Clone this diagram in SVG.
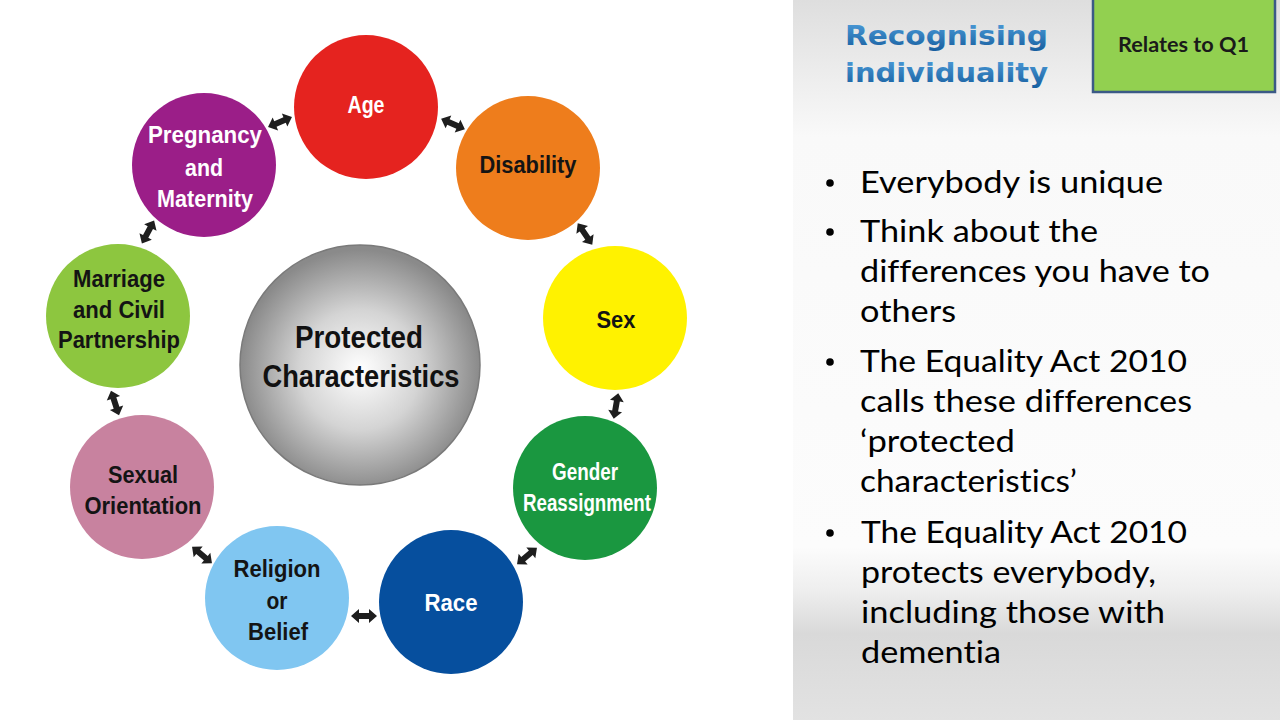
<svg xmlns="http://www.w3.org/2000/svg" xmlns:xlink="http://www.w3.org/1999/xlink" width="1280" height="720" viewBox="0 0 1280 720">
  <defs>
    <style>
      text { font-variant-ligatures: none; font-feature-settings: "liga" 0, "clig" 0; }
      .lbl { font-family: "Liberation Sans Narrow", "Liberation Sans", Arial, sans-serif; font-weight: bold; font-size: 23px; text-anchor: middle; }
      .w { fill: #ffffff; }
      .k { fill: #141414; }
      .hub { font-family: "Liberation Sans Narrow", "Liberation Sans", Arial, sans-serif; font-weight: bold; font-size: 31px; text-anchor: middle; fill: #111111; }
      .title { font-family: "DejaVu Sans", Verdana, sans-serif; font-weight: bold; font-size: 27px; fill: url(#titleGrad); }
      .tag { font-family: "Lato", "Liberation Sans", sans-serif; font-weight: bold; font-size: 21px; fill: #1a1a1a; }
      .body { font-family: "Lato", "Open Sans", "Liberation Sans", sans-serif; font-size: 30px; fill: #000000; }
      .dot { fill: #000000; }
      .arrow { fill: #1e1e1e; }
    </style>
    <linearGradient id="panelGrad" x1="0" y1="0" x2="0" y2="1">
      <stop offset="0" stop-color="#dedede"/>
      <stop offset="0.19" stop-color="#f9f9f9"/>
      <stop offset="0.76" stop-color="#fcfcfc"/>
      <stop offset="0.82" stop-color="#eeeeee"/>
      <stop offset="0.88" stop-color="#d9d9d9"/>
      <stop offset="1" stop-color="#e2e2e2"/>
    </linearGradient>
    <linearGradient id="titleGrad" x1="0" y1="0" x2="0" y2="1">
      <stop offset="0" stop-color="#4f9fdc"/>
      <stop offset="1" stop-color="#175e9f"/>
    </linearGradient>
    <radialGradient id="hubGrad" cx="0.5" cy="0.52" r="0.5">
      <stop offset="0" stop-color="#ffffff"/>
      <stop offset="0.5" stop-color="#d4d4d4"/>
      <stop offset="1" stop-color="#8a8a8a"/>
    </radialGradient>
    <!-- double-headed arrow, centred on the origin, pointing along x -->
    <polygon id="dbl" points="-13,0 -5,-7 -5,-3 5,-3 5,-7 13,0 5,7 5,3 -5,3 -5,7"/>
  </defs>

  <rect x="0" y="0" width="1280" height="720" fill="#ffffff"/>

  <!-- right-hand text panel -->
  <g id="panel">
    <rect x="793" y="0" width="487" height="720" fill="url(#panelGrad)"/>
  </g>

  <g id="title">
    <text class="title" x="845" y="45" textLength="203" lengthAdjust="spacingAndGlyphs">Recognising</text>
    <text class="title" x="845" y="82" textLength="203" lengthAdjust="spacingAndGlyphs">individuality</text>
  </g>

  <g id="tag-q1">
    <rect x="1093" y="-2" width="182" height="94" fill="#92d050" stroke="#3b5a86" stroke-width="2.5"/>
    <text class="tag" x="1118" y="52" textLength="131" lengthAdjust="spacingAndGlyphs">Relates to Q1</text>
  </g>

  <g id="bullets">
    <circle class="dot" cx="830" cy="183" r="3.8"/>
    <text class="body" x="860" y="193" textLength="303" lengthAdjust="spacingAndGlyphs">Everybody is unique</text>

    <circle class="dot" cx="830" cy="232" r="3.8"/>
    <text class="body" x="860" y="242" textLength="238" lengthAdjust="spacingAndGlyphs">Think about the</text>
    <text class="body" x="860" y="282" textLength="350" lengthAdjust="spacingAndGlyphs">differences you have to</text>
    <text class="body" x="860" y="322" textLength="96" lengthAdjust="spacingAndGlyphs">others</text>

    <circle class="dot" cx="830" cy="362" r="3.8"/>
    <text class="body" x="860" y="372" textLength="327" lengthAdjust="spacingAndGlyphs">The Equality Act 2010</text>
    <text class="body" x="860" y="412" textLength="332" lengthAdjust="spacingAndGlyphs">calls these differences</text>
    <text class="body" x="860" y="452" textLength="155" lengthAdjust="spacingAndGlyphs">‘protected</text>
    <text class="body" x="860" y="492" textLength="217" lengthAdjust="spacingAndGlyphs">characteristics’</text>

    <circle class="dot" cx="830" cy="533" r="3.8"/>
    <text class="body" x="861" y="543" textLength="326" lengthAdjust="spacingAndGlyphs">The Equality Act 2010</text>
    <text class="body" x="861" y="583" textLength="295" lengthAdjust="spacingAndGlyphs">protects everybody,</text>
    <text class="body" x="861" y="623" textLength="304" lengthAdjust="spacingAndGlyphs">including those with</text>
    <text class="body" x="861" y="663" textLength="140" lengthAdjust="spacingAndGlyphs">dementia</text>
  </g>

  <!-- connectors between neighbouring characteristics -->
  <g id="connectors">
    <use xlink:href="#dbl" class="arrow" transform="translate(280,122) rotate(-23)"/>
    <use xlink:href="#dbl" class="arrow" transform="translate(453,124) rotate(24)"/>
    <use xlink:href="#dbl" class="arrow" transform="translate(585,234) rotate(56)"/>
    <use xlink:href="#dbl" class="arrow" transform="translate(616,406) rotate(100)"/>
    <use xlink:href="#dbl" class="arrow" transform="translate(527,556) rotate(140)"/>
    <use xlink:href="#dbl" class="arrow" transform="translate(364,616) rotate(0)"/>
    <use xlink:href="#dbl" class="arrow" transform="translate(202,555) rotate(40)"/>
    <use xlink:href="#dbl" class="arrow" transform="translate(115,403) rotate(72)"/>
    <use xlink:href="#dbl" class="arrow" transform="translate(148,232) rotate(118)"/>
  </g>

  <g id="hub">
    <circle cx="360" cy="365" r="120" fill="url(#hubGrad)" stroke="#7a7a7a" stroke-width="1.5"/>
    <text class="hub" x="359" y="348" textLength="128" lengthAdjust="spacingAndGlyphs">Protected</text>
    <text class="hub" x="361" y="387" textLength="197" lengthAdjust="spacingAndGlyphs">Characteristics</text>
  </g>

  <g id="age">
    <circle cx="366" cy="107" r="72" fill="#e5231f"/>
    <text class="lbl w" x="366" y="113" textLength="37" lengthAdjust="spacingAndGlyphs">Age</text>
  </g>

  <g id="disability">
    <circle cx="528" cy="168" r="72" fill="#ee7d1c"/>
    <text class="lbl k" x="528" y="173" textLength="97" lengthAdjust="spacingAndGlyphs">Disability</text>
  </g>

  <g id="sex">
    <circle cx="615" cy="318" r="72" fill="#fff200"/>
    <text class="lbl k" x="616" y="328" textLength="39" lengthAdjust="spacingAndGlyphs">Sex</text>
  </g>

  <g id="gender-reassignment">
    <circle cx="585" cy="488" r="72" fill="#1a9740"/>
    <text class="lbl w" x="585" y="480" textLength="66" lengthAdjust="spacingAndGlyphs">Gender</text>
    <text class="lbl w" x="587" y="511" textLength="128" lengthAdjust="spacingAndGlyphs">Reassignment</text>
  </g>

  <g id="race">
    <circle cx="451" cy="602" r="72" fill="#064f9e"/>
    <text class="lbl w" x="451" y="611" textLength="53" lengthAdjust="spacingAndGlyphs">Race</text>
  </g>

  <g id="religion-or-belief">
    <circle cx="277" cy="598" r="72" fill="#80c6f1"/>
    <text class="lbl k" x="277" y="577" textLength="87" lengthAdjust="spacingAndGlyphs">Religion</text>
    <text class="lbl k" x="277" y="609" textLength="21" lengthAdjust="spacingAndGlyphs">or</text>
    <text class="lbl k" x="278" y="640" textLength="60" lengthAdjust="spacingAndGlyphs">Belief</text>
  </g>

  <g id="sexual-orientation">
    <circle cx="142" cy="487" r="72" fill="#c8829f"/>
    <text class="lbl k" x="143" y="483" textLength="70" lengthAdjust="spacingAndGlyphs">Sexual</text>
    <text class="lbl k" x="143" y="514" textLength="117" lengthAdjust="spacingAndGlyphs">Orientation</text>
  </g>

  <g id="marriage-civil-partnership">
    <circle cx="118" cy="316" r="72" fill="#8dc63f"/>
    <text class="lbl k" x="119" y="287" textLength="92" lengthAdjust="spacingAndGlyphs">Marriage</text>
    <text class="lbl k" x="119" y="318" textLength="92" lengthAdjust="spacingAndGlyphs">and Civil</text>
    <text class="lbl k" x="119" y="348" textLength="122" lengthAdjust="spacingAndGlyphs">Partnership</text>
  </g>

  <g id="pregnancy-maternity">
    <circle cx="204" cy="165" r="72" fill="#9b1e88"/>
    <text class="lbl w" x="205" y="143" textLength="114" lengthAdjust="spacingAndGlyphs">Pregnancy</text>
    <text class="lbl w" x="204" y="176" textLength="38" lengthAdjust="spacingAndGlyphs">and</text>
    <text class="lbl w" x="205" y="207" textLength="96" lengthAdjust="spacingAndGlyphs">Maternity</text>
  </g>
</svg>
